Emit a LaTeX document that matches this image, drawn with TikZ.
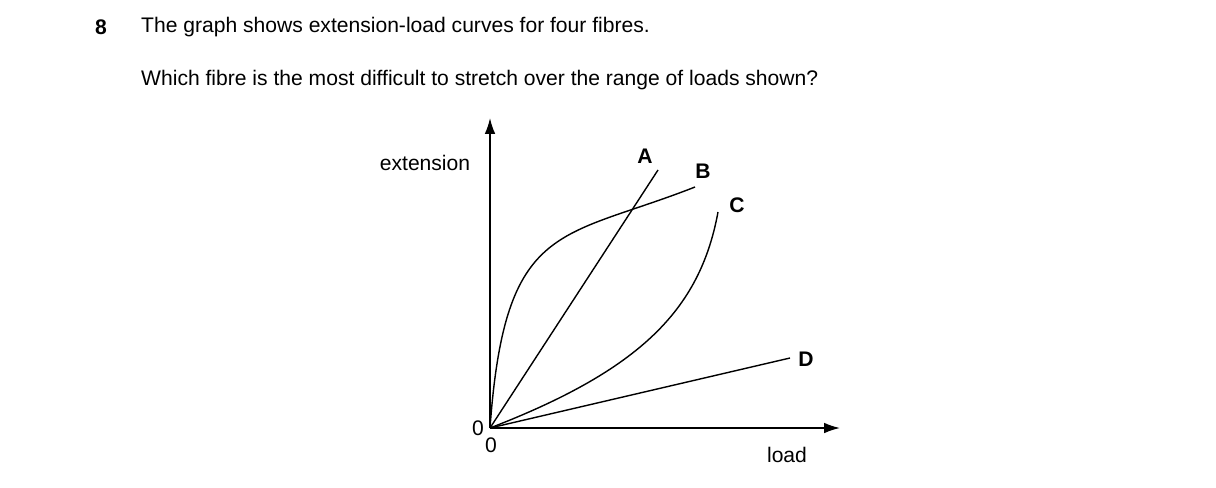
\documentclass[tikz,border=0pt]{standalone}
\usepackage{fontspec}
\setmainfont{Liberation Sans}
\usetikzlibrary{arrows.meta,positioning}
\begin{document}
\begin{tikzpicture}[x=0.02cm,y=-0.02cm,
    axis/.style={line width=0.9pt,-{Latex[length=9pt,width=6pt]}},
    fibre/.style={line width=0.8pt},
    lbl/.style={font=\bfseries\fontsize{12}{14}\selectfont},
    txt/.style={font=\fontsize{12}{14}\selectfont}]
        \useasboundingbox (0,0) rectangle (1216,487);
        % Question
        \node[lbl,anchor=west] (num) at (89,27) {8};
        \node[txt,anchor=west] (q1) at (135,27) {The graph shows extension-load curves for four fibres.};
        \node[txt,anchor=west] (q2) at (135,80) {Which fibre is the most difficult to stretch over the range of loads shown?};
        % Axes
        \coordinate (O) at (490,428);
        \coordinate (ytip) at (490,118);
        \coordinate (xtip) at (840,428);
        \draw[axis] (O) -- (ytip);
        \draw[axis] (O) -- (xtip);
        \node[txt] (ext) at (425,163) {extension};
        \node[txt] (load) at (787,455) {load};
        \node[txt] (zy) at (478,428) {0};
        \node[txt] (zx) at (491,445) {0};
        % Curves
        \coordinate (Aend) at (658,170);
        \coordinate (Bend) at (695,187);
        \coordinate (Cend) at (718,212);
        \coordinate (Dend) at (790,358);
        \draw[fibre] (O) -- (Aend);
        \draw[fibre] (O) .. controls (505,220) and (560,240) .. (Bend);
        \draw[fibre] (O) .. controls (640,370) and (700,310) .. (Cend);
        \draw[fibre] (O) -- (Dend);
        % Labels
        \node[lbl] (A) at (645,156) {A};
        \node[lbl] (B) at (703,171) {B};
        \node[lbl] (C) at (737,205) {C};
        \node[lbl] (D) at (806,359) {D};
\end{tikzpicture}
\end{document}
